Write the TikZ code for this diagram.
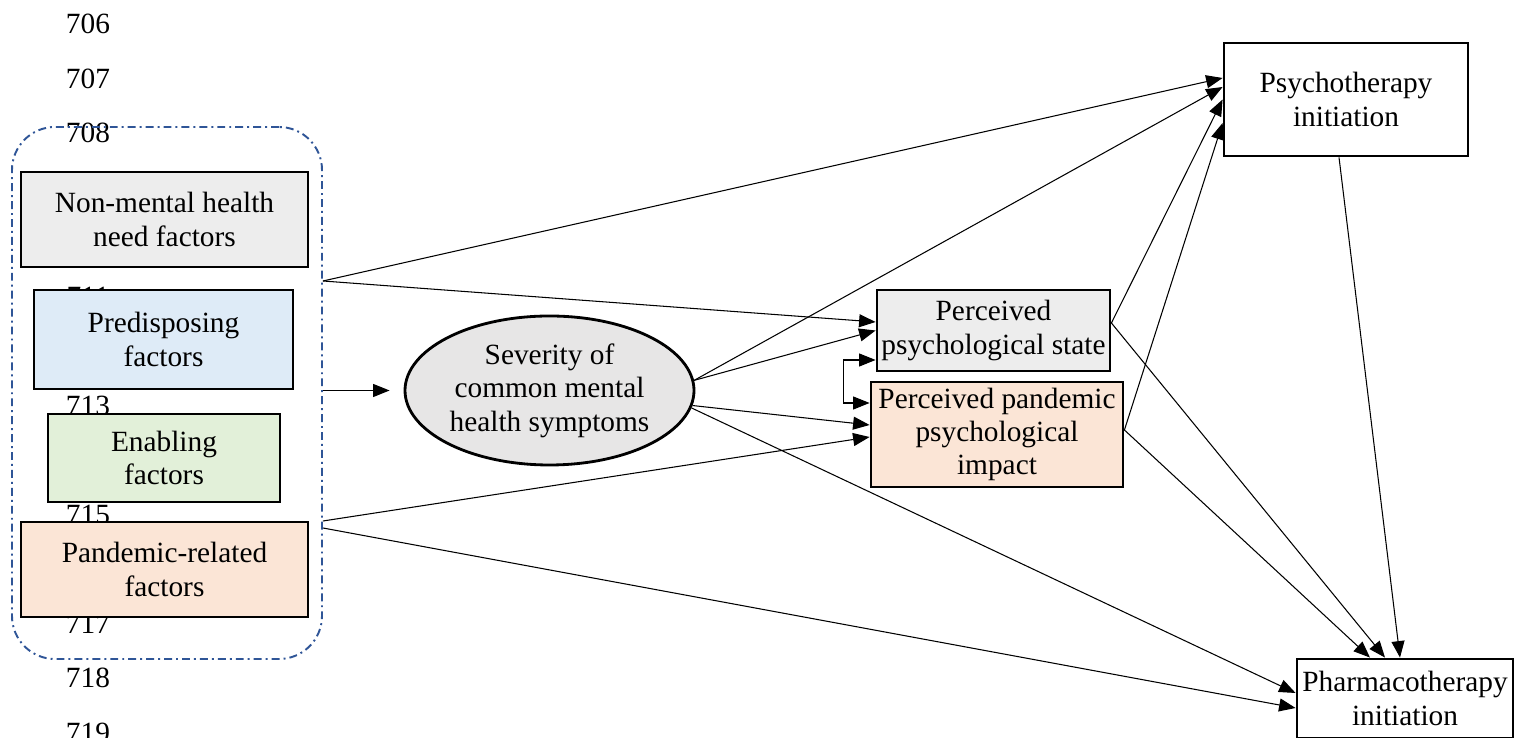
\documentclass[tikz,border=0pt]{standalone}
\usepackage{fontspec}
\setmainfont{Liberation Serif}
\usetikzlibrary{arrows.meta,shapes.geometric}

\definecolor{grpblue}{HTML}{2F5597}
\definecolor{nmgray}{HTML}{EDEDED}
\definecolor{sevgray}{HTML}{E7E6E6}
\definecolor{preblue}{HTML}{DEEBF7}
\definecolor{enagreen}{HTML}{E2F0D9}
\definecolor{panorange}{HTML}{FBE5D6}

\begin{document}
\begin{tikzpicture}[font=\fontsize{16.7}{19}\selectfont,
  >={Triangle[length=0.33cm,width=0.26cm]},
  box/.style={draw,line width=1.6pt,align=center,inner sep=0pt},
  arr/.style={->,line width=0.6pt},
  linenum/.style={inner sep=0pt}]
\useasboundingbox (0,0) rectangle (30.46,14.76);

% manuscript line numbers
\foreach \n/\y in {706/14.28,707/13.19,708/12.10,711/8.83,713/6.65,715/4.47,717/2.29,718/1.20,719/0.11}
  \node[linenum] (ln\n) at (1.76,\y) {\n};

\begin{scope}
\node[draw=grpblue,line width=1.1pt,dash pattern=on 4.5pt off 2.3pt on 1.1pt off 2.3pt,
  rounded corners=0.86cm,minimum width=6.2cm,minimum height=10.64cm] (grp) at (3.34,6.9) {};

\node[box,fill=nmgray,minimum width=5.74cm,minimum height=1.9cm] (nm) at (3.29,10.37) {Non-mental health\\need factors};
\node[box,fill=preblue,minimum width=5.18cm,minimum height=1.98cm] (pre) at (3.27,7.97) {Predisposing\\factors};
\node[box,fill=enagreen,minimum width=4.64cm,minimum height=1.76cm] (ena) at (3.28,5.60) {Enabling\\factors};
\node[box,fill=panorange,minimum width=5.74cm,minimum height=1.9cm] (pan) at (3.29,3.37) {Pandemic-related\\factors};
\end{scope}

\node[ellipse,draw,line width=1.6pt,fill=sevgray,minimum width=5.78cm,minimum height=2.98cm,
  align=center,inner sep=0pt] (sev) at (10.99,6.95) {Severity of\\common mental\\health symptoms};

\node[box,fill=nmgray,minimum width=4.66cm,minimum height=1.62cm] (st) at (19.87,8.15) {Perceived\\psychological state};
\node[box,fill=panorange,minimum width=5.04cm,minimum height=2.1cm] (imp) at (19.94,6.07) {Perceived pandemic\\psychological\\impact};
\node[box,fill=white,minimum width=4.88cm,minimum height=2.26cm] (psy) at (26.92,12.77) {Psychotherapy\\initiation};
\node[box,fill=white,minimum width=4.32cm,minimum height=1.58cm] (pha) at (28.1,0.79) {Pharmacotherapy\\initiation};

\coordinate (gtop) at ([yshift=2.24cm]grp.east);
\coordinate (gbot) at ([yshift=-2.56cm]grp.east);
\coordinate (gbot2) at ([yshift=-2.70cm]grp.east);

\draw[arr] (gtop) -- ([yshift=0.43cm]psy.west);
\draw[arr] (gtop) -- ([yshift=0.17cm]st.west);
\draw[arr,shorten >=0.28cm] (grp.east |- sev.west) -- (sev.west);
\draw[arr] (gbot) -- ([yshift=-0.05cm]imp.west);
\draw[arr] (gbot2) -- ([yshift=-0.19cm]pha.west);

\draw[arr] (sev.4) -- ([yshift=0.25cm]psy.west);
\draw[arr] (sev.4) -- (st.west);
\draw[arr] (sev.-6) -- ([yshift=0.19cm]imp.west);
\draw[arr] (sev.-7) -- ([yshift=0.11cm]pha.west);

\draw[arr] ([yshift=0.15cm]st.east) -- (psy.west);
\draw[arr] ([yshift=0.15cm]st.east) -- ([xshift=-0.4cm]pha.north);
\draw[arr] ([yshift=0.09cm]imp.east) -- ([yshift=-0.47cm]psy.west);
\draw[arr] ([yshift=0.09cm]imp.east) -- ([xshift=-0.7cm]pha.north);
\draw[arr] ([xshift=-0.14cm]psy.south) -- ([xshift=-0.1cm]pha.north);

\draw[arr,<->] ([yshift=-0.59cm]st.west) -- ++(-0.64,0) |- ([yshift=0.63cm]imp.west);

\end{tikzpicture}
\end{document}
